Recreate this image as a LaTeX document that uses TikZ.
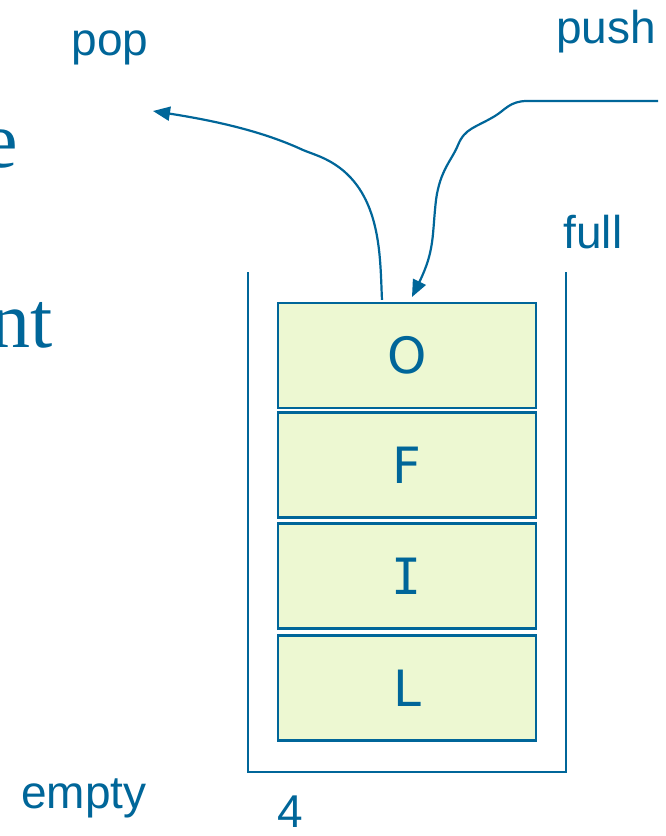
\documentclass[tikz,border=0pt]{standalone}
\usepackage{fontspec}
\setmainfont{Liberation Sans}
\newfontfamily\serifface{Liberation Serif}
\newfontfamily\boxface{DejaVu Sans}
\newfontfamily\boxmono{DejaVu Sans Mono}
\usetikzlibrary{arrows.meta,calc}
\definecolor{stackblue}{RGB}{0,102,153}
\definecolor{stackfill}{RGB}{237,248,210}
\tikzset{
  cell/.style={draw=stackblue, line width=2.2pt, fill=stackfill, minimum width=258pt, minimum height=105pt, inner sep=0pt, text=stackblue, font=\boxface\fontsize{50}{60}\selectfont},
  lbl/.style={text=stackblue, inner sep=0pt, anchor=base, font=\fontsize{46}{55}\selectfont},
  bigserif/.style={text=stackblue, inner sep=0pt, anchor=base east, font=\serifface\fontsize{80}{96}\selectfont},
  wall/.style={draw=stackblue, line width=2.2pt},
  flow/.style={draw=stackblue, line width=2.2pt, -{Triangle[length=17pt,width=14pt]}}
}
\begin{document}
\begin{tikzpicture}[x=1pt,y=-1pt]
\clip (0,0) rectangle (665,836);
\fill[white] (0,0) rectangle (665,836);
% partial serif text at left edge
\node[bigserif] (e) at (18,167) {e};
\node[bigserif] (nt) at (53,347) {nt};
% container
\coordinate (ctl) at (248,272);
\coordinate (cbl) at (248,772);
\coordinate (cbr) at (566,772);
\coordinate (ctr) at (566,272);
\draw[wall] (ctl) -- (cbl) -- (cbr) -- (ctr);
% cells
\node[cell] (o) at (407,355.5) {O};
\node[cell] (f) at (407,465) {F};
\node[cell] (i) at (407,576) {\boxmono I};
\node[cell] (l) at (407,688) {L};
% labels
\node[lbl] (pop) at (110,55) {pop};
\node[lbl] (push) at (606,43) {push};
\node[lbl] (full) at (593,248) {full};
\node[lbl] (empty) at (84,808) {empty};
\node[lbl] (four) at (290,827) {4};
% pop arrow
\coordinate (popstart) at ($(o.north)+(-25,-2)$);
\coordinate (popend) at (153,111);
\draw[flow] (popstart) .. controls (380,260) and (382,200) .. (340,168)
  .. controls (325,157) and (315,155) .. (303,150)
  .. controls (260,130) and (210,120) .. (popend);
% push arrow
\coordinate (pushstart) at (658,101);
\coordinate (pushend) at (412,297);
\draw[flow] (pushstart) -- (527,101)
  .. controls (510,101) and (505,110) .. (495,116)
  .. controls (475,128) and (465,128) .. (458,145)
  .. controls (452,160) and (440,170) .. (436,200)
  .. controls (432,235) and (435,250) .. (pushend);
\end{tikzpicture}
\end{document}
